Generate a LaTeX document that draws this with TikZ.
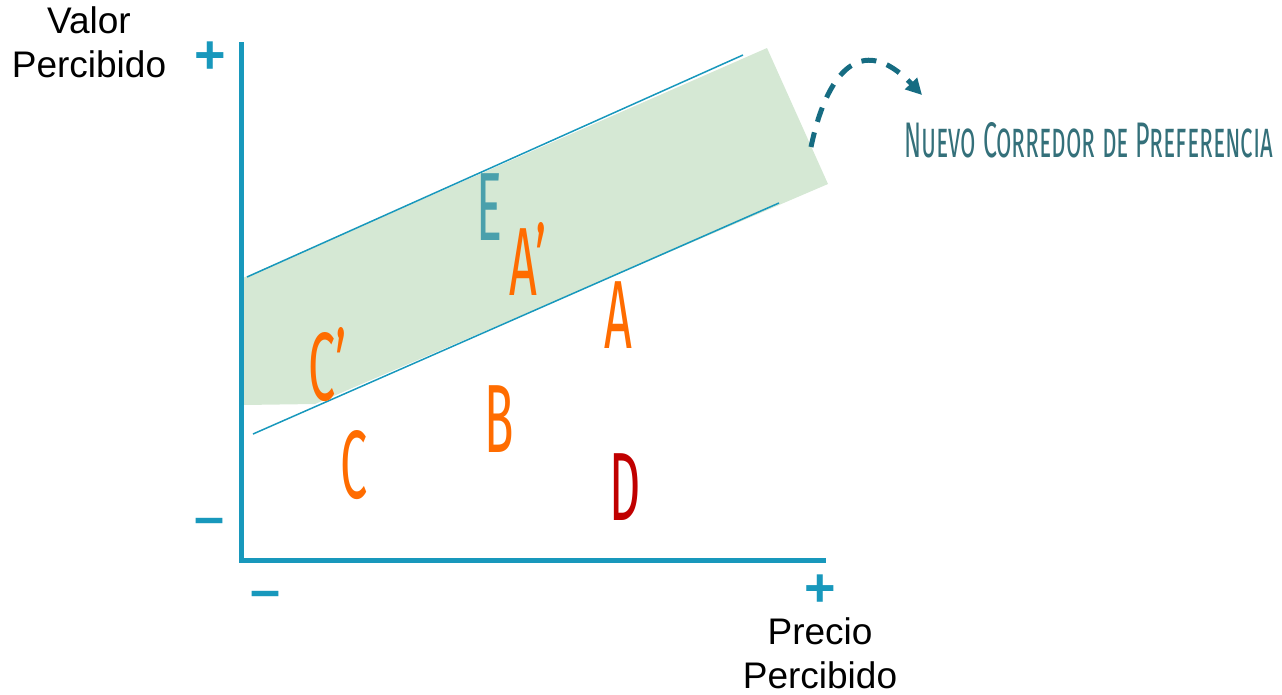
\documentclass[tikz,border=0pt]{standalone}
\usepackage{fontspec}
\setmainfont{Liberation Sans}
\newfontfamily\letrafont[FakeStretch=0.5]{Fira Sans}
\newfontfamily\titulofont[FakeStretch=0.5]{Fira Sans}
\usetikzlibrary{arrows.meta}
\definecolor{ejeazul}{RGB}{24,152,188}
\definecolor{bandaverde}{RGB}{213,232,212}
\definecolor{naranja}{RGB}{255,108,0}
\definecolor{rojoD}{RGB}{192,0,0}
\definecolor{tealE}{RGB}{74,160,172}
\definecolor{tealflecha}{RGB}{22,108,130}
\definecolor{tealtexto}{RGB}{52,112,122}
\begin{document}
\begin{tikzpicture}[x=1pt,y=-1pt,
    letra/.style={font=\letrafont\fontsize{97}{97}\selectfont, inner sep=0pt, anchor=base west},
    signo/.style={ejeazul, font=\bfseries\fontsize{54}{54}\selectfont, inner sep=0pt},
    rotulo/.style={font=\fontsize{37}{44}\selectfont, align=center, inner sep=0pt},
    linea/.style={ejeazul, line width=1.5pt}]
    \useasboundingbox (0,0) rectangle (1282,694);

    % banda verde del corredor
    \coordinate (bandaA) at (243,278);
    \coordinate (bandaB) at (767,48);
    \coordinate (bandaC) at (828,184);
    \coordinate (bandaD) at (315,404);
    \coordinate (bandaE) at (243,405);
    \fill[bandaverde] (bandaA) -- (bandaB) -- (bandaC) -- (bandaD) -- (bandaE) -- cycle;

    % rectas del corredor
    \coordinate (sup1) at (247,277);
    \coordinate (sup2) at (743,55);
    \coordinate (inf1) at (253,434);
    \coordinate (inf2) at (779,203);
    \draw[linea] (sup1) -- (sup2);
    \draw[linea] (inf1) -- (inf2);

    % ejes
    \coordinate (origen) at (241,560);
    \draw[ejeazul, line width=5pt] (241,42) -- (origen) -- (826,560);

    % signos
    \node[signo] (masY) at (210,58) {+};
    \node[signo] (menosY) at (210,527) {\textendash};
    \node[signo] (menosX) at (266,600) {\textendash};
    \node[signo] (masX) at (820,591) {+};

    % rotulos de los ejes
    \node[rotulo] (valor) at (89,42) {Valor\\Percibido};
    \node[rotulo, text depth=0pt, anchor=south] (precio) at (820,689) {Precio\\Percibido};

    % marcas
    \node[letra, tealE] (E) at (476,240) {E};
    \node[letra, naranja] (Ap) at (509,295) {A’};
    \node[letra, naranja] (A) at (604,348) {A};
    \node[letra, naranja] (Cp) at (308,400) {C’};
    \node[letra, naranja] (B) at (484,452) {B};
    \node[letra, naranja] (C) at (340,498) {C};
    \node[letra, rojoD] (D) at (609,520) {D};

    % titulo y flecha
    \node[tealtexto, anchor=base west, inner sep=0pt,
          font=\titulofont\fontsize{50}{50}\selectfont\scshape] (titulo) at (904,157)
          {Nuevo Corredor de Preferencia};
    \coordinate (salida) at (811,147);
    \coordinate (llegada) at (922,95);
    \draw[tealflecha, line width=5pt, dash pattern=on 15pt off 11pt,
          -{Triangle[length=16pt,width=16pt]}]
        (salida) .. controls (826,75) and (860,30) .. (llegada);
\end{tikzpicture}
\end{document}
